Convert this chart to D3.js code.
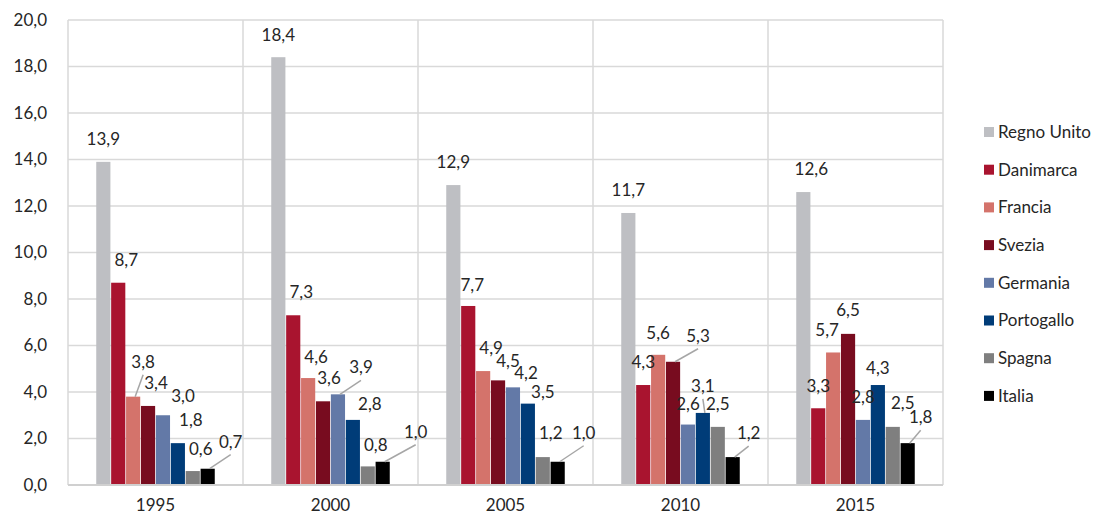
<!DOCTYPE html>
<html>
<head>
<meta charset="utf-8">
<script src="https://cdn.jsdelivr.net/npm/d3@7"></script>
<style>
  body { margin: 0; background: #fff; }
  text { font-family: Lato, "Open Sans", sans-serif; fill: #262626; }
</style>
</head>
<body>
<div id="chart"></div>
<script>
// data
var years = ["1995", "2000", "2005", "2010", "2015"];
var countries = ["Regno Unito", "Danimarca", "Francia", "Svezia", "Germania", "Portogallo", "Spagna", "Italia"];
var colors = ["#bebfc3", "#a9142f", "#d4736b", "#780c1f", "#6379a7", "#003c78", "#7f7f7f", "#000000"];
var regnoUnito = [13.9, 18.4, 12.9, 11.7, 12.6];
var danimarca  = [8.7, 7.3, 7.7, 4.3, 3.3];
var francia    = [3.8, 4.6, 4.9, 5.6, 5.7];
var svezia     = [3.4, 3.6, 4.5, 5.3, 6.5];
var germania   = [3.0, 3.9, 4.2, 2.6, 2.8];
var portogallo = [1.8, 2.8, 3.5, 3.1, 4.3];
var spagna     = [0.6, 0.8, 1.2, 2.5, 2.5];
var italia     = [0.7, 1.0, 1.0, 1.2, 1.8];
var yTicks = [0, 2, 4, 6, 8, 10, 12, 14, 16, 18, 20];

// label placement tweaks (per year, per country: [dx, dy from bar top]) and leader lines
var labelOffsets = [
  [[0,-23],[8,-23],[10,-35],[8,-23],[20,-19],[13,-23],[8,-22],[23,-27]],
  [[0,-22],[8,-23],[8,-21],[6,-23],[23,-27],[17,-16],[8,-21],[33,-30]],
  [[0,-23],[4,-21],[8,-23],[10,-19],[13,-14],[15,-12],[8,-24],[26,-29]],
  [[0,-23],[0,-23],[0,-22],[25,-26],[0,-21],[0,-27],[0,-23],[16,-24]],
  [[8,-23],[0,-22],[-6,-22],[0,-24],[0,-23],[0,-17],[10,-24],[13,-26]]
];
var leaders = [[2, 7], [4, 7], [7], [3, 5, 7], [7]];

var seriesValues = [regnoUnito, danimarca, francia, svezia, germania, portogallo, spagna, italia];

var width = 1101, height = 516;
var plotLeft = 68, plotRight = 943, plotTop = 20, plotBottom = 485;
var fontSize = "17px";

var fmt = d3.formatLocale({decimal: ",", thousands: ".", grouping: [3], currency: ["", "€"]}).format(".1f");

var svg = d3.select("#chart").append("svg").attr("width", width).attr("height", height);

var x0 = d3.scaleBand().domain(years).range([plotLeft, plotRight]);
var x1 = d3.scaleBand().domain(countries).range([27.5, 147.5]).padding(0.05);
var y = d3.scaleLinear().domain([0, 20]).range([plotBottom, plotTop]);

// grid
svg.append("g").selectAll("line").data(yTicks.slice(1)).enter().append("line")
  .attr("x1", plotLeft).attr("x2", plotRight)
  .attr("y1", function(d) { return y(d); }).attr("y2", function(d) { return y(d); })
  .attr("stroke", "#d9d9d9").attr("stroke-width", 1.5);

var vlines = years.map(function(d) { return x0(d); }).concat([plotRight]);
svg.append("g").selectAll("line").data(vlines).enter().append("line")
  .attr("x1", function(d) { return d; }).attr("x2", function(d) { return d; })
  .attr("y1", plotTop).attr("y2", plotBottom)
  .attr("stroke", "#d9d9d9").attr("stroke-width", 1.5);

// y labels
svg.append("g").selectAll("text").data(yTicks).enter().append("text")
  .attr("x", 47).attr("y", function(d) { return y(d); })
  .attr("dy", "0.35em").attr("text-anchor", "end")
  .style("font-size", fontSize)
  .text(function(d) { return fmt(d); });

// bars
var groups = svg.append("g").selectAll("g").data(years).enter().append("g")
  .attr("transform", function(d) { return "translate(" + x0(d) + ",0)"; });

groups.selectAll("rect")
  .data(function(yr, i) { return countries.map(function(c, j) { return {c: c, j: j, i: i, v: seriesValues[j][i]}; }); })
  .enter().append("rect")
  .attr("x", function(d) { return x1(d.c); })
  .attr("width", x1.bandwidth())
  .attr("y", function(d) { return y(d.v); })
  .attr("height", function(d) { return y(0) - y(d.v); })
  .attr("fill", function(d) { return colors[d.j]; });

// axis line
svg.append("line").attr("x1", plotLeft).attr("x2", plotRight).attr("y1", plotBottom).attr("y2", plotBottom)
  .attr("stroke", "#d0d0d0").attr("stroke-width", 2);

// leader lines
groups.selectAll("line.leader")
  .data(function(yr, i) { return leaders[i].map(function(j) { return {c: countries[j], j: j, i: i, v: seriesValues[j][i]}; }); })
  .enter().append("line").attr("class", "leader")
  .attr("x1", function(d) { return x1(d.c) + x1.bandwidth() / 2 + 2; })
  .attr("y1", function(d) { return y(d.v); })
  .attr("x2", function(d) { return x1(d.c) + x1.bandwidth() / 2 + labelOffsets[d.i][d.j][0]; })
  .attr("y2", function(d) { return y(d.v) + labelOffsets[d.i][d.j][1] + 13; })
  .attr("stroke", "#a6a6a6").attr("stroke-width", 1.5);

// value labels
groups.selectAll("text")
  .data(function(yr, i) { return countries.map(function(c, j) { return {c: c, j: j, i: i, v: seriesValues[j][i]}; }); })
  .enter().append("text")
  .attr("x", function(d) { return x1(d.c) + x1.bandwidth() / 2 + labelOffsets[d.i][d.j][0]; })
  .attr("y", function(d) { return y(d.v) + labelOffsets[d.i][d.j][1]; })
  .attr("dy", "0.35em").attr("text-anchor", "middle")
  .style("font-size", fontSize)
  .text(function(d) { return fmt(d.v); });

// x labels
svg.append("g").selectAll("text").data(years).enter().append("text")
  .attr("x", function(d) { return x0(d) + x0.bandwidth() / 2; })
  .attr("y", 505).attr("dy", "0.35em").attr("text-anchor", "middle")
  .style("font-size", fontSize)
  .text(function(d) { return d; });

// legend
var legend = svg.append("g").selectAll("g").data(countries).enter().append("g")
  .attr("transform", function(d, i) { return "translate(984," + (132 + i * 37.7) + ")"; });
legend.append("rect").attr("x", 0).attr("y", -5).attr("width", 10).attr("height", 10)
  .attr("fill", function(d, i) { return colors[i]; });
legend.append("text").attr("x", 14).attr("dy", "0.35em")
  .style("font-size", fontSize)
  .text(function(d) { return d; });
</script>
</body>
</html>
